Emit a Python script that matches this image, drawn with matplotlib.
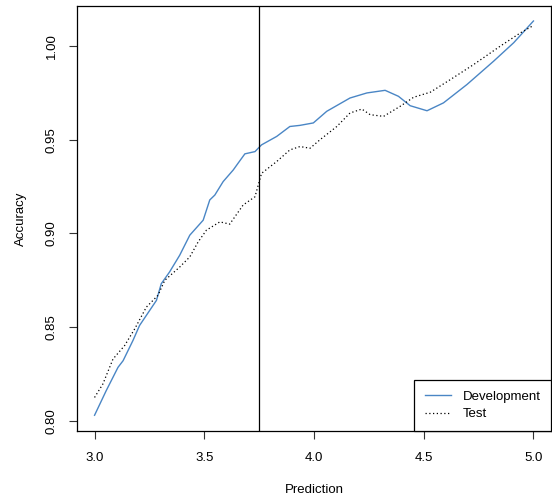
import matplotlib
matplotlib.use('Agg')
import matplotlib.pyplot as plt

# values
dev_x = [3.0, 3.053, 3.107, 3.13, 3.175, 3.205, 3.236, 3.282, 3.304, 3.342, 3.388,
         3.434, 3.495, 3.525, 3.548, 3.586, 3.632, 3.654, 3.685, 3.731, 3.761, 3.83,
         3.89, 3.936, 3.997, 4.058, 4.164, 4.241, 4.324, 4.385, 4.438, 4.515, 4.59,
         4.697, 4.819, 4.91, 5.0]
dev_y = [0.803, 0.8161, 0.8286, 0.8321, 0.8429, 0.8509, 0.8563, 0.8643, 0.8732, 0.8795, 0.8884,
         0.8991, 0.9071, 0.9179, 0.9205, 0.9277, 0.9339, 0.9375, 0.9425, 0.9437, 0.9473, 0.9518,
         0.9571, 0.9577, 0.959, 0.9652, 0.9723, 0.975, 0.9764, 0.9732, 0.9682, 0.9655, 0.9697,
         0.9795, 0.992, 1.0018, 1.0134]

test_x = [3.0, 3.038, 3.084, 3.137, 3.183, 3.236, 3.289, 3.32, 3.388, 3.434, 3.472,
          3.51, 3.571, 3.616, 3.677, 3.731, 3.761, 3.83, 3.89, 3.936, 3.982, 4.027,
          4.104, 4.164, 4.218, 4.256, 4.317, 4.393, 4.454, 4.53, 4.621, 4.728, 4.849,
          4.941, 5.0]
test_y = [0.8125, 0.8197, 0.833, 0.8402, 0.8491, 0.8607, 0.867, 0.875, 0.8821, 0.8875, 0.8955,
          0.9018, 0.9062, 0.905, 0.9152, 0.9196, 0.9321, 0.9384, 0.9446, 0.9464, 0.9455, 0.95,
          0.9571, 0.9643, 0.9664, 0.9634, 0.9625, 0.9679, 0.9727, 0.9754, 0.9821, 0.9902, 1.0,
          1.0071, 1.011]

cutoff = 3.75
x_ticks = [3.0, 3.5, 4.0, 4.5, 5.0]
y_ticks = [0.80, 0.85, 0.90, 0.95, 1.00]

plt.rcParams['font.family'] = ['Liberation Sans', 'DejaVu Sans']
plt.rcParams['font.size'] = 9.5

fig = plt.figure(figsize=(5.52, 4.99), dpi=100)
ax = fig.add_axes([77 / 552, 68 / 499, 474 / 552, 425 / 499])

ax.plot(dev_x, dev_y, color='#4a86c5', lw=1.0, label='Development')
ax.plot(test_x, test_y, color='black', lw=0.9, linestyle=(0, (1, 2)), label='Test')
ax.axvline(cutoff, color='black', lw=0.9)

ax.set_xlim(2.92, 5.08)
ax.set_ylim(0.7946, 1.0214)
ax.set_xticks(x_ticks)
ax.set_xticklabels(['3.0', '3.5', '4.0', '4.5', '5.0'])
ax.set_yticks(y_ticks)
ax.set_yticklabels(['0.80', '0.85', '0.90', '0.95', '1.00'], rotation=90, va='center')
ax.tick_params(direction='out', length=6, width=0.8, color='#333333', pad=8)
ax.tick_params(axis='x', pad=9)
for s in ax.spines.values():
    s.set_linewidth(0.9)

ax.set_xlabel('Prediction')
ax.xaxis.set_label_coords(0.5, -0.125)
ax.set_ylabel('Accuracy')
ax.yaxis.set_label_coords(-0.105, 0.5)

leg = ax.legend(loc='lower right', borderaxespad=0, fancybox=False,
                edgecolor='black', framealpha=1, handlelength=2.0,
                handletextpad=0.85, borderpad=0.8, labelspacing=0.4)
leg.get_frame().set_linewidth(0.9)

plt.savefig('out.png', dpi=100)
